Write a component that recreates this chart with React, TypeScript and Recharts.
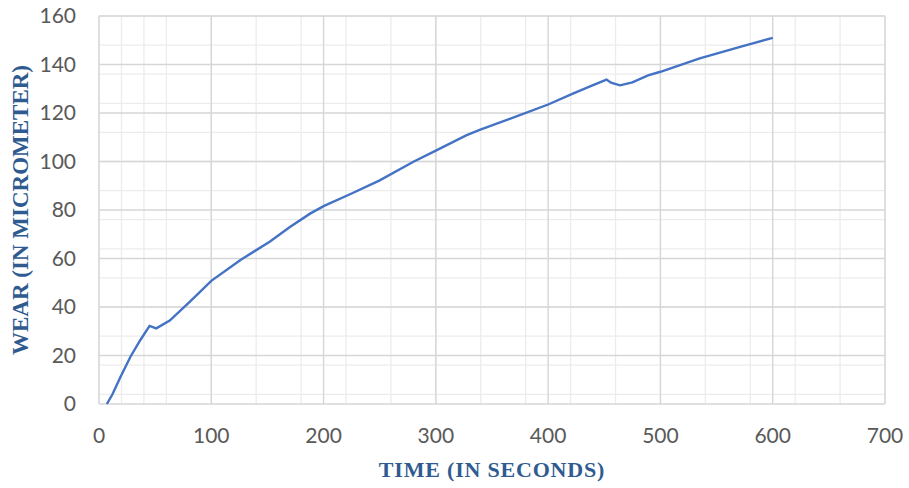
import { CartesianGrid, Line, LineChart, XAxis, YAxis } from "recharts";

const timeSeconds = [
  7, 12, 19, 28, 37, 45, 51, 63, 81, 100, 126, 152, 170, 188, 200, 225, 250, 280, 300, 327,
  339, 370, 400, 422, 440, 452, 456, 464, 475, 489, 500, 535, 571, 600,
];
const wearMicrometer = [
  0, 4, 11, 19.5, 26.5, 32.2, 31.2, 34.4, 42.2, 50.8, 59.4, 66.9, 73, 78.5, 81.6, 86.8, 92.2,
  99.9, 104.5, 110.8, 113, 118.3, 123.5, 128, 131.5, 133.8, 132.5, 131.4, 132.6, 135.5, 137,
  142.5, 147.3, 151,
];
const xTicks = [0, 100, 200, 300, 400, 500, 600, 700];
const yTicks = [0, 20, 40, 60, 80, 100, 120, 140, 160];

// minor gridlines: every 20 s and every 4 µm
const xMinor = Array.from({ length: 36 }, (_, i) => i * 20);
const yMinor = Array.from({ length: 41 }, (_, i) => i * 4);

const data = timeSeconds.map((t, i) => ({ t, wear: wearMicrometer[i] }));

const tickStyle = { fill: "#595959", fontSize: 21, fontFamily: "Lato, sans-serif" };
const labelColor = "#2F5B91";

export default function App() {
  return (
    <div style={{ position: "absolute", left: 0, top: 0, width: 909, height: 488, background: "#fff" }}>
      <LineChart width={909} height={488} data={data} margin={{ top: 16, right: 24, bottom: 0, left: 0 }}>
        <CartesianGrid
          stroke="#ececec"
          strokeWidth={1.3}
          verticalValues={xMinor}
          horizontalValues={yMinor}
        />
        <CartesianGrid stroke="#d6d6d6" strokeWidth={1.4} />
        <XAxis
          dataKey="t"
          type="number"
          domain={[0, 700]}
          ticks={xTicks}
          tickLine={false}
          axisLine={false}
          tickSize={6}
          tickMargin={18}
          height={84}
          tick={tickStyle}
          label={{
            content: ({ viewBox }: any) => (
              <text
                x={viewBox.x + viewBox.width / 2}
                y={viewBox.y + 73}
                textAnchor="middle"
                fill={labelColor}
                fontSize={22}
                fontWeight="bold"
                letterSpacing={0.8}
                fontFamily="'Liberation Serif', 'Times New Roman', serif"
              >
                TIME (IN SECONDS)
              </text>
            ),
          }}
        />
        <YAxis
          type="number"
          domain={[0, 160]}
          ticks={yTicks}
          tickLine={false}
          axisLine={false}
          tickSize={6}
          tickMargin={17}
          width={99}
          tick={tickStyle}
          label={{
            content: ({ viewBox }: any) => {
              const cy = viewBox.y + viewBox.height / 2;
              return (
                <text
                  x={28}
                  y={cy}
                  transform={`rotate(-90, 28, ${cy})`}
                  textAnchor="middle"
                  fill={labelColor}
                  fontSize={23}
                  fontWeight="bold"
                  fontFamily="'Liberation Serif', 'Times New Roman', serif"
                >
                  WEAR (IN MICROMETER)
                </text>
              );
            },
          }}
        />
        <Line
          type="linear"
          dataKey="wear"
          stroke="#4472C4"
          strokeWidth={2.4}
          dot={false}
          isAnimationActive={false}
        />
      </LineChart>
    </div>
  );
}
